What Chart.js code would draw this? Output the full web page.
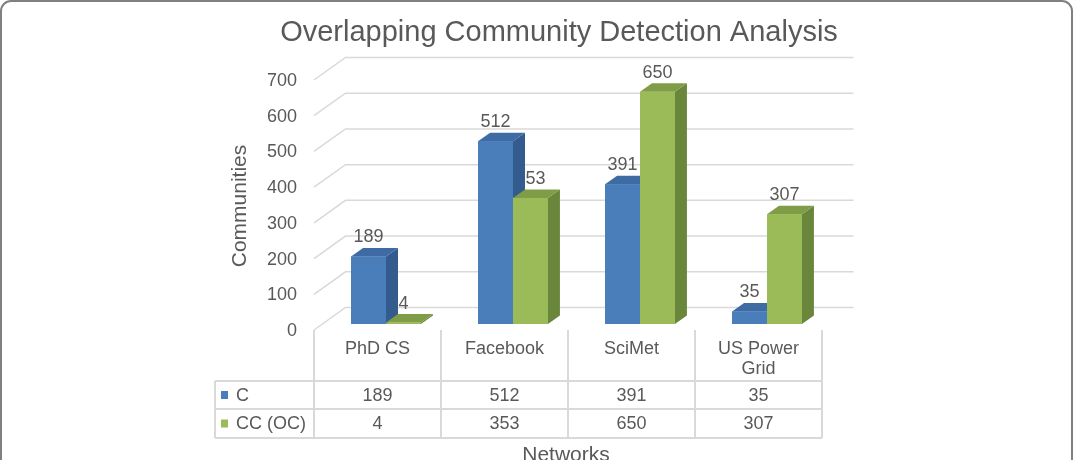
<!DOCTYPE html>
<html><head><meta charset="utf-8">
<script src="https://cdn.jsdelivr.net/npm/chart.js@4/dist/chart.umd.min.js"></script>
<style>html,body{margin:0;padding:0;background:#fff;overflow:hidden}canvas{display:block}</style>
</head><body>
<canvas id="c" width="1077" height="460"></canvas>
<script>
const chartTitle = "Overlapping Community Detection Analysis";
const yAxisTitle = "Communities";
const xAxisTitle = "Networks";
const categories = ["PhD CS", "Facebook", "SciMet", "US Power Grid"];
const seriesNames = ["C", "CC (OC)"];
const valuesC = [189, 512, 391, 35];
const valuesCC = [4, 353, 650, 307];
const yTicks = [0, 100, 200, 300, 400, 500, 600, 700];

const FONT = "'Liberation Sans', Arial, Helvetica, sans-serif";
const TXT = '#595959';
const GRID = '#d9d9d9';
const faces = [
  {front:'#4a7ebb', top:'#3e6ba4', side:'#335b8d'},
  {front:'#9bbb59', top:'#7f9d46', side:'#69863a'}
];
// 3D offsets (bar depth, back wall, front plane)
const DX = 12, DY = -8.5, BX = 23, BY = -16.5, FX = -8.5, FY = 6;

function wrapText(ctx, text, maxW){
  const words = text.split(' '); const lines = []; let cur = '';
  words.forEach(w => {
    const t = cur ? cur + ' ' + w : w;
    if (ctx.measureText(t).width > maxW && cur) { lines.push(cur); cur = w; } else cur = t;
  });
  if (cur) lines.push(cur);
  return lines;
}

const fake3d = {
  id: 'fake3d',
  beforeDraw(chart){
    const ctx = chart.ctx;
    ctx.save();
    ctx.fillStyle = '#fff'; ctx.fillRect(0,0,chart.width,chart.height);
    ctx.strokeStyle = '#808080'; ctx.lineWidth = 2;
    ctx.beginPath(); ctx.roundRect(1, 1, 1071, 500, 10); ctx.stroke();
    ctx.restore();
  },
  beforeDatasetsDraw(chart){
    const {ctx, chartArea:a, scales:{y}} = chart;
    ctx.save();
    ctx.strokeStyle = GRID; ctx.lineWidth = 1.5;
    yTicks.forEach(v => {
      const py = y.getPixelForValue(v);
      ctx.beginPath();
      ctx.moveTo(a.left + FX, py + FY);
      ctx.lineTo(a.left + BX, py + BY);
      ctx.lineTo(a.right + BX, py + BY);
      ctx.stroke();
    });
    // data labels (drawn before bars so bars may hide them, as in the original)
    ctx.fillStyle = TXT; ctx.font = `18px ${FONT}`;
    ctx.textAlign = 'center'; ctx.textBaseline = 'middle';
    chart.data.datasets.forEach((ds, i) => {
      chart.getDatasetMeta(i).data.forEach((bar, j) => {
        const p = bar.getProps(['x','y'], true);
        ctx.fillText(String(ds.data[j]), p.x, p.y - 19);
      });
    });
    ctx.restore();
  },
  afterDatasetsDraw(chart){
    const ctx = chart.ctx;
    const metas = chart.data.datasets.map((d,i) => chart.getDatasetMeta(i));
    ctx.save();
    for (let j = 0; j < categories.length; j++) {
      metas.forEach((m, i) => {
        const p = m.data[j].getProps(['x','y','base','width'], true);
        const L = p.x - p.width/2, R = p.x + p.width/2, T = p.y, B = p.base;
        const f = faces[i];
        ctx.fillStyle = f.side;
        ctx.beginPath(); ctx.moveTo(R, T); ctx.lineTo(R+DX, T+DY); ctx.lineTo(R+DX, B+DY); ctx.lineTo(R, B); ctx.closePath(); ctx.fill();
        ctx.fillStyle = f.top;
        ctx.beginPath(); ctx.moveTo(L, T); ctx.lineTo(R, T); ctx.lineTo(R+DX, T+DY); ctx.lineTo(L+DX, T+DY); ctx.closePath(); ctx.fill();
        ctx.fillStyle = f.front;
        ctx.fillRect(L, T, R-L, B-T);
      });
    }
    ctx.restore();
  },
  afterDraw(chart){
    const {ctx, chartArea:a} = chart;
    const cw = (a.right - a.left) / categories.length;
    const x0 = a.left + FX;
    const top = a.bottom + FY, r1 = 381, r2 = 409, r3 = 438, legL = 215;
    ctx.save();
    ctx.strokeStyle = GRID; ctx.lineWidth = 2;
    // horizontal lines
    [r1, r2, r3].forEach(yy => { ctx.beginPath(); ctx.moveTo(legL, yy); ctx.lineTo(x0 + cw*categories.length, yy); ctx.stroke(); });
    // vertical lines
    for (let k = 0; k <= categories.length; k++) {
      const xx = x0 + k*cw;
      ctx.beginPath(); ctx.moveTo(xx, top); ctx.lineTo(xx, r3); ctx.stroke();
    }
    ctx.beginPath(); ctx.moveTo(legL, r1); ctx.lineTo(legL, r3); ctx.stroke();
    // texts
    ctx.fillStyle = TXT; ctx.font = `18px ${FONT}`;
    ctx.textAlign = 'center'; ctx.textBaseline = 'middle';
    categories.forEach((c, k) => {
      const cx = x0 + (k + 0.5) * cw;
      wrapText(ctx, c, cw - 14).forEach((ln, li) => ctx.fillText(ln, cx, 349 + li*20.5));
      ctx.fillText(String(valuesC[k]), cx, (r1 + r2)/2 + 1);
      ctx.fillText(String(valuesCC[k]), cx, (r2 + r3)/2 + 1);
    });
    // legend keys
    ctx.textAlign = 'left';
    [[r1, r2], [r2, r3]].forEach((rr, i) => {
      const cy = (rr[0] + rr[1]) / 2;
      ctx.fillStyle = faces[i].front;
      ctx.fillRect(221, cy - 4, 7, 8);
      ctx.fillStyle = TXT;
      ctx.fillText(seriesNames[i], 236, cy + 1);
    });
    // titles
    ctx.textAlign = 'center';
    ctx.font = `29px ${FONT}`;
    ctx.fillText(chartTitle, 559, 33);
    ctx.font = `21px ${FONT}`;
    ctx.fillText(xAxisTitle, 566, 455);
    ctx.translate(240, 206); ctx.rotate(-Math.PI/2);
    ctx.fillText(yAxisTitle, 0, 0);
    ctx.restore();
  }
};

new Chart(document.getElementById('c').getContext('2d'), {
  type: 'bar',
  data: {
    labels: categories,
    datasets: [
      {label: seriesNames[0], data: valuesC, backgroundColor: faces[0].front, categoryPercentage: 0.55, barPercentage: 1},
      {label: seriesNames[1], data: valuesCC, backgroundColor: faces[1].front, categoryPercentage: 0.55, barPercentage: 1}
    ]
  },
  options: {
    responsive: false, animation: false, devicePixelRatio: 1,
    layout: {padding: {left: 262.5, right: 246.5, top: 74, bottom: 136}},
    plugins: {legend: {display: false}, tooltip: {enabled: false}, title: {display: false}},
    scales: {
      x: {display: false},
      y: {
        min: 0, max: 700,
        afterFit(s){ s.width = 60; },
        ticks: {stepSize: 100, color: TXT, font: {family: FONT, size: 18}, padding: 25.5, labelOffset: 7},
        grid: {display: false, drawTicks: false},
        border: {display: false}
      }
    }
  },
  plugins: [fake3d]
});
</script>
</body></html>
